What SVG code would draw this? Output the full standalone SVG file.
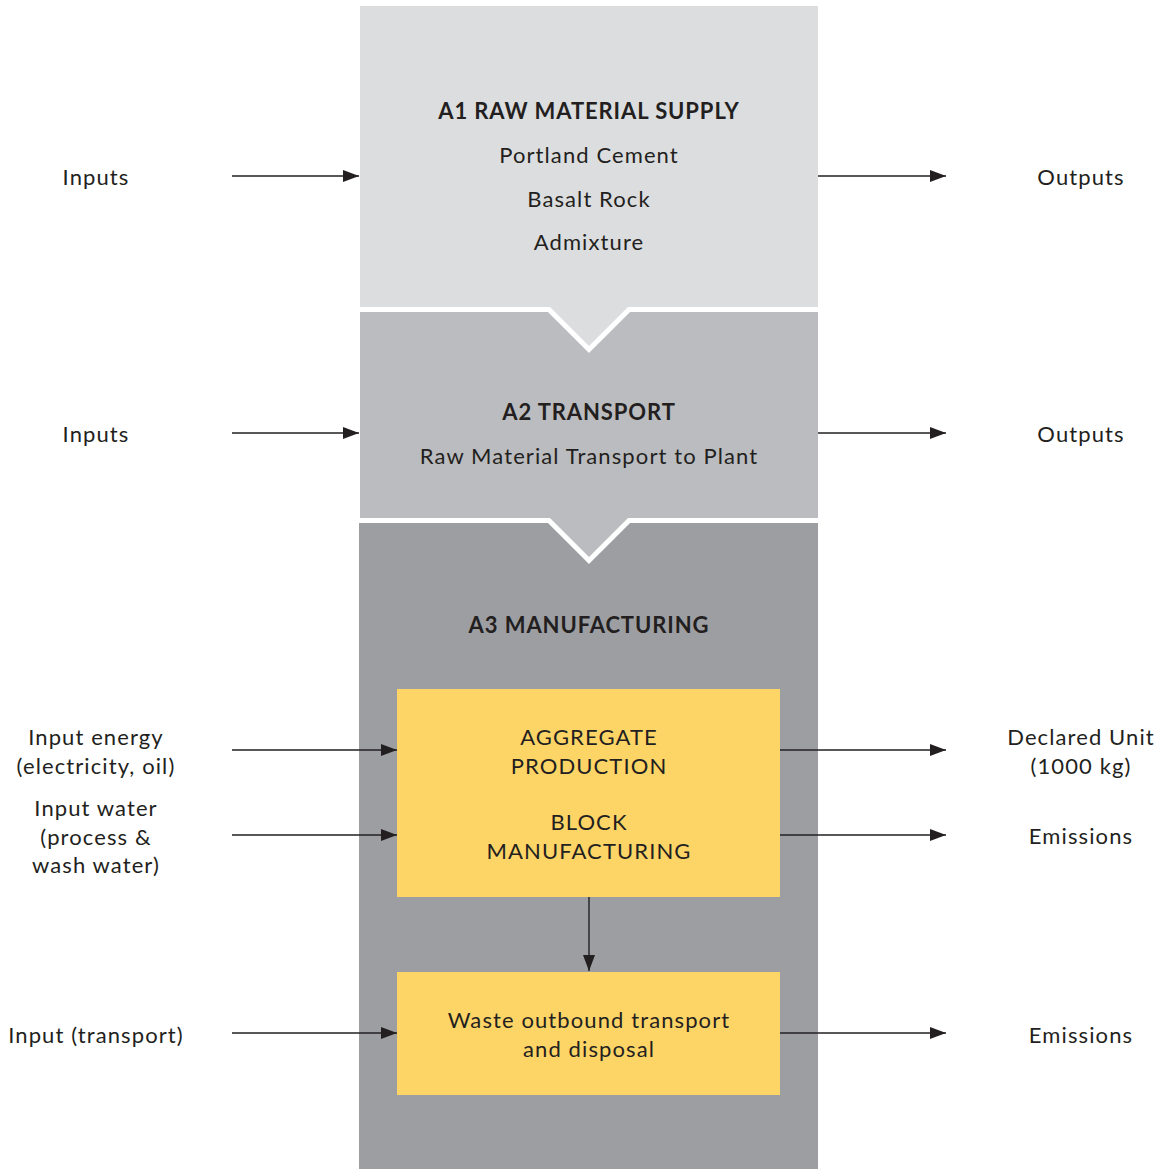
<svg xmlns="http://www.w3.org/2000/svg" width="1166" height="1169" viewBox="0 0 1166 1169">
  <defs>
    <marker id="arrow" viewBox="0 0 16 12" refX="16" refY="6" markerWidth="16" markerHeight="12" markerUnits="userSpaceOnUse" orient="auto">
      <path d="M0,0 L16,6 L0,12 Z" fill="#231f20"/>
    </marker>
    <style>
      text { font-family: Lato, "Open Sans", "Liberation Sans", sans-serif; font-size: 22px; letter-spacing: 1.1px; fill: #231f20; text-anchor: middle; }
      .title { font-weight: bold; letter-spacing: 0.9px; }
      .stage { stroke: #ffffff; stroke-width: 10; paint-order: stroke; stroke-linejoin: miter; }
      .box { fill: #fdd466; }
      .conn line { stroke: #231f20; stroke-width: 1.4; marker-end: url(#arrow); }
    </style>
  </defs>
  <rect width="1166" height="1169" fill="#ffffff"/>

  <!-- A3 manufacturing stage (bottom layer) -->
  <g id="a3">
    <rect x="359" y="522" width="459" height="647" fill="#9d9ea2"/>
    <text class="title" x="589" y="633">A3 MANUFACTURING</text>
  </g>

  <!-- A2 transport stage with chevron into A3 -->
  <g id="a2">
    <path class="stage" d="M360,312 H818 V518 H628 L589,557 L550,518 H360 Z" fill="#bbbcbf"/>
    <text class="title" x="589" y="420">A2 TRANSPORT</text>
    <text x="589" y="464">Raw Material Transport to Plant</text>
  </g>

  <!-- A1 raw material supply stage with chevron into A2 -->
  <g id="a1">
    <path class="stage" d="M360,6 H818 V307 H628 L589,346 L550,307 H360 Z" fill="#dcdddf"/>
    <text class="title" x="589" y="119">A1 RAW MATERIAL SUPPLY</text>
    <text x="589" y="163">Portland Cement</text>
    <text x="589" y="207">Basalt Rock</text>
    <text x="589" y="250">Admixture</text>
  </g>

  <g id="production">
    <rect class="box" x="397" y="689" width="383" height="208"/>
    <text x="589" y="745">AGGREGATE</text>
    <text x="589" y="774">PRODUCTION</text>
    <text x="589" y="830">BLOCK</text>
    <text x="589" y="859">MANUFACTURING</text>
  </g>

  <g id="waste">
    <rect class="box" x="397" y="972" width="383" height="123"/>
    <text x="589" y="1028">Waste outbound transport</text>
    <text x="589" y="1057">and disposal</text>
  </g>

  <!-- side labels -->
  <g id="labels-in">
    <text x="96" y="185">Inputs</text>
    <text x="96" y="442">Inputs</text>
    <text x="96" y="745">Input energy</text>
    <text x="96" y="774">(electricity, oil)</text>
    <text x="96" y="816">Input water</text>
    <text x="96" y="845">(process &amp;</text>
    <text x="96" y="873">wash water)</text>
    <text x="96" y="1043">Input (transport)</text>
  </g>
  <g id="labels-out">
    <text x="1081" y="185">Outputs</text>
    <text x="1081" y="442">Outputs</text>
    <text x="1081" y="745">Declared Unit</text>
    <text x="1081" y="774">(1000 kg)</text>
    <text x="1081" y="844">Emissions</text>
    <text x="1081" y="1043">Emissions</text>
  </g>

  <!-- connectors -->
  <g id="connectors" class="conn">
    <line x1="232" y1="176" x2="359" y2="176"/>
    <line x1="818" y1="176" x2="946" y2="176"/>
    <line x1="232" y1="433" x2="359" y2="433"/>
    <line x1="818" y1="433" x2="946" y2="433"/>
    <line x1="232" y1="750" x2="397" y2="750"/>
    <line x1="780" y1="750" x2="946" y2="750"/>
    <line x1="232" y1="835" x2="397" y2="835"/>
    <line x1="780" y1="835" x2="946" y2="835"/>
    <line x1="232" y1="1033" x2="397" y2="1033"/>
    <line x1="780" y1="1033" x2="946" y2="1033"/>
    <line x1="589" y1="897" x2="589" y2="971"/>
  </g>
</svg>
